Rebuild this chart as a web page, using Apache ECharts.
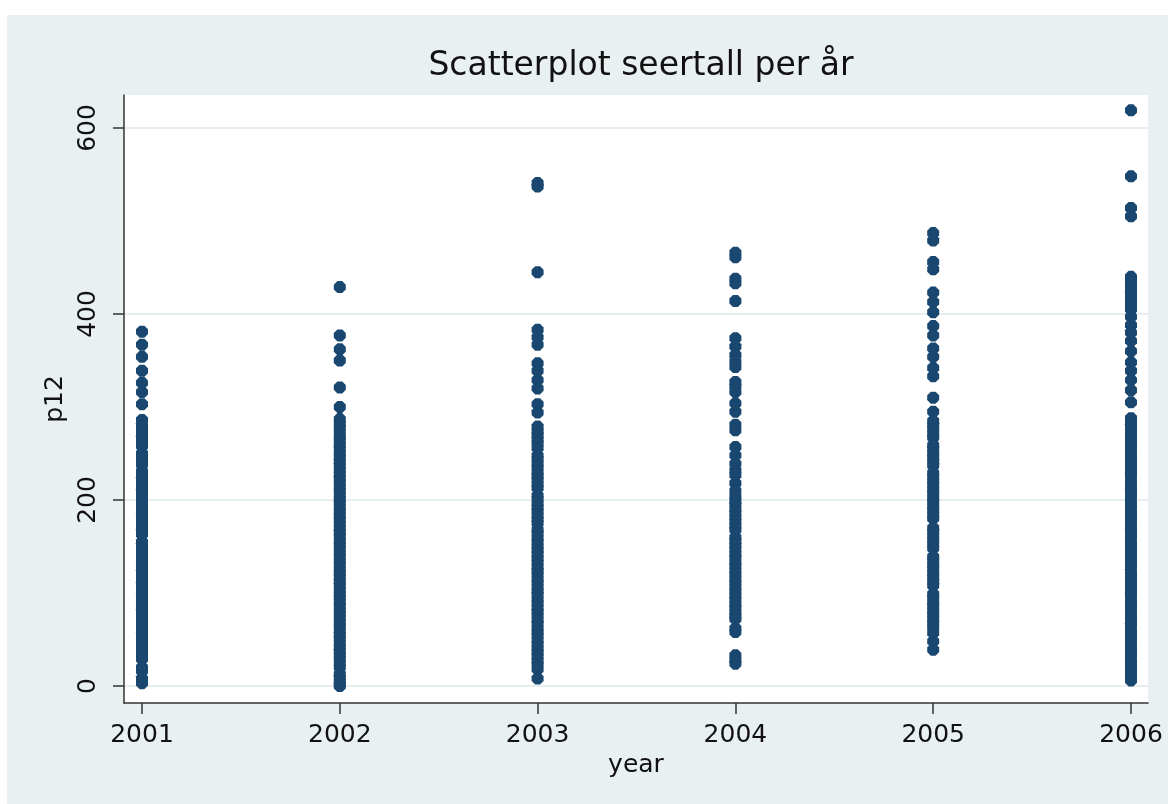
<!DOCTYPE html>
<html>
<head>
<meta charset="utf-8">
<script src="https://cdn.jsdelivr.net/npm/echarts@6/dist/echarts.min.js"></script>
<style>html,body{margin:0;padding:0;background:#fff}#c{width:1168px;height:804px}</style>
</head>
<body>
<div id="c"></div>
<script>
const titleText = 'Scatterplot seertall per år';
const xName = 'year';
const yName = 'p12';
const years = [2001, 2002, 2003, 2004, 2005, 2006];
const yTicks = [0, 200, 400, 600];

const p2001 = [381, 367, 354, 339, 326, 316, 303, 286, 280, 275, 271, 266, 262, 258, 250, 246, 242, 238, 231, 227, 222, 218, 214, 209, 205, 201, 196, 192, 188, 183, 179, 175, 171, 166, 163, 155, 151, 147, 143, 139, 134, 130, 126, 122, 118, 113, 109, 105, 101, 97, 92, 88, 84, 80, 76, 71, 67, 63, 59, 55, 50, 46, 42, 38, 33, 29, 20, 16, 8, 5, 3];
const p2002 = [429, 377, 362, 350, 321, 300, 287, 282, 278, 273, 268, 264, 259, 255, 250, 246, 241, 237, 232, 228, 223, 219, 214, 210, 205, 201, 197, 192, 188, 183, 179, 174, 170, 165, 161, 156, 152, 148, 143, 139, 134, 130, 125, 121, 117, 112, 108, 103, 99, 95, 90, 86, 81, 77, 73, 68, 64, 59, 55, 51, 46, 42, 37, 33, 29, 24, 20, 13, 9, 5, 2, 0];
const p2003 = [541, 537, 445, 383, 375, 367, 347, 339, 329, 320, 303, 294, 279, 274, 270, 265, 261, 256, 248, 244, 239, 235, 230, 226, 222, 217, 213, 205, 201, 196, 192, 188, 183, 179, 175, 168, 164, 159, 155, 150, 146, 142, 137, 133, 128, 124, 120, 115, 111, 106, 102, 98, 93, 89, 84, 80, 76, 71, 67, 62, 58, 54, 49, 45, 40, 36, 32, 27, 23, 18, 8];
const p2004 = [466, 461, 438, 433, 414, 374, 365, 356, 349, 343, 327, 322, 316, 304, 295, 281, 275, 257, 248, 239, 232, 227, 218, 210, 204, 199, 195, 190, 186, 181, 177, 172, 168, 160, 156, 151, 147, 142, 138, 133, 129, 124, 120, 115, 111, 106, 102, 97, 93, 88, 84, 79, 75, 72, 62, 58, 33, 28, 24];
const p2005 = [487, 479, 456, 448, 423, 413, 402, 387, 377, 363, 354, 342, 333, 310, 295, 285, 280, 276, 271, 267, 259, 255, 250, 246, 241, 237, 229, 225, 220, 216, 211, 207, 202, 198, 193, 189, 184, 180, 170, 166, 161, 157, 152, 148, 139, 135, 130, 126, 121, 117, 112, 108, 99, 95, 90, 86, 81, 77, 72, 68, 63, 57, 48, 39];
const p2006 = [619, 548, 514, 505, 440, 436, 431, 427, 422, 417, 413, 409, 405, 397, 388, 380, 371, 360, 348, 339, 329, 318, 305, 288, 284, 279, 274, 268, 263, 258, 252, 247, 242, 236, 231, 226, 220, 214, 209, 204, 198, 193, 187, 182, 177, 171, 166, 161, 155, 150, 145, 139, 134, 129, 123, 118, 113, 107, 102, 97, 91, 86, 81, 75, 70, 65, 59, 54, 49, 43, 38, 33, 27, 22, 17, 11, 6];

const columns = [p2001, p2002, p2003, p2004, p2005, p2006];
const points = [];
columns.forEach((vals, i) => vals.forEach(v => points.push([years[i], v])));

const FONT = 'DejaVu Sans';
const OCTAGON = 'path://M3,0L7,0L10,3L10,7L7,10L3,10L0,7L0,3Z';
const chart = echarts.init(document.getElementById('c'));
chart.setOption({
  backgroundColor: '#ffffff',
  animation: false,
  graphic: [{
    type: 'rect', z: -100, silent: true,
    shape: { x: 7, y: 15, width: 1161, height: 789 },
    style: { fill: '#e9f0f2' }
  }],
  title: {
    text: titleText,
    left: 636, top: 45, textAlign: 'center',
    textStyle: { fontFamily: FONT, fontSize: 33, fontWeight: 'normal', color: '#111' }
  },
  grid: {
    left: 124, right: 20, top: 95, bottom: 101,
    show: true, backgroundColor: '#ffffff', borderWidth: 0
  },
  xAxis: {
    type: 'value', min: 2000.909, max: 2006.086,
    name: xName, nameLocation: 'middle', nameGap: 50,
    nameTextStyle: { fontFamily: FONT, fontSize: 25, color: '#111' },
    axisLine: { show: true, onZero: false, lineStyle: { color: '#333', width: 1.5 } },
    axisTick: { show: true, length: 11, customValues: years, lineStyle: { color: '#333', width: 1.5 } },
    axisLabel: { margin: 20, customValues: years, fontFamily: FONT, fontSize: 25, color: '#111', formatter: v => String(v) },
    splitLine: { show: false }
  },
  yAxis: {
    type: 'value', min: -18.3, max: 635.5,
    name: yName, nameLocation: 'middle', nameGap: 43,
    nameTextStyle: { fontFamily: FONT, fontSize: 25, color: '#111' },
    axisLine: { show: true, onZero: false, lineStyle: { color: '#333', width: 1.5 } },
    axisTick: { show: true, length: 11, customValues: yTicks, lineStyle: { color: '#333', width: 1.5 } },
    axisLabel: { margin: 23, rotate: 90, customValues: yTicks, fontFamily: FONT, fontSize: 25, color: '#111' },
    splitLine: { show: true, lineStyle: { color: '#e6eef0', width: 2 } }
  },
  series: [{
    type: 'scatter',
    data: points,
    symbol: OCTAGON,
    symbolSize: 12,
    itemStyle: { color: '#1a476f', opacity: 1 }
  }]
});
</script>
</body>
</html>
